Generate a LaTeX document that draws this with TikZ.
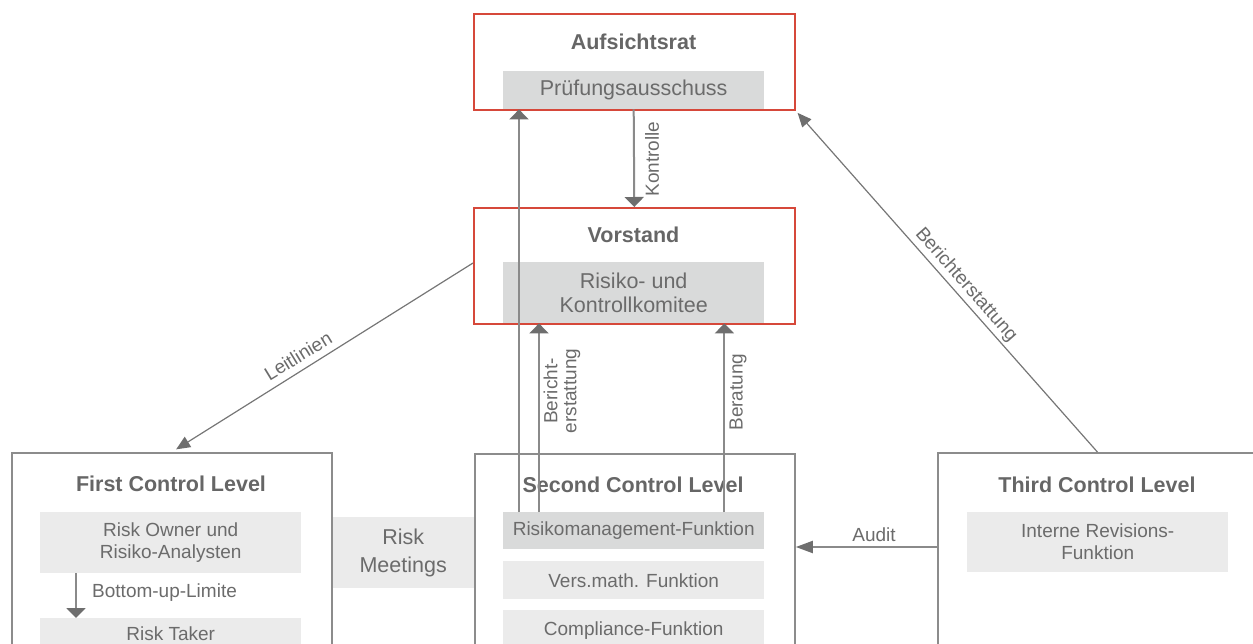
\documentclass[tikz,border=0pt]{standalone}
\usepackage{fontspec}
\setmainfont{Liberation Sans}
\usetikzlibrary{arrows.meta}
\definecolor{txt}{HTML}{6B6B6B}
\definecolor{ttl}{HTML}{666666}
\definecolor{frame}{HTML}{8C8C8C}
\definecolor{redb}{HTML}{D6483A}
\definecolor{gdark}{HTML}{D9DADA}
\definecolor{glight}{HTML}{EBEBEB}
\definecolor{lne}{HTML}{8A8A8A}
\definecolor{dlne}{HTML}{767676}
\definecolor{head}{HTML}{6E6E6E}
\begin{document}
\begin{tikzpicture}[x=1pt,y=-1pt,
  redbox/.style={draw=redb, line width=1.6pt, inner sep=0pt, anchor=north west},
  greybox/.style={draw=frame, line width=1.8pt, inner sep=0pt, anchor=north west},
  inbox/.style={fill=#1, inner sep=0pt, anchor=north west, minimum width=261pt, text=txt, align=center},
  big/.style={font=\fontsize{21.5}{24}\selectfont},
  small/.style={font=\fontsize{19}{22}\selectfont},
  ttlnode/.style={font=\bfseries\fontsize{21.5}{25}\selectfont, text=ttl, inner sep=0pt},
  lbl/.style={font=\fontsize{19}{19}\selectfont, text=txt, inner sep=0pt, align=center},
  varr/.style={draw=lne, line width=2pt, -{Triangle[length=10pt,width=19pt,color=head]}},
  harr/.style={draw=lne, line width=2pt, -{Triangle[length=17pt,width=12pt,color=head]}},
  darr/.style={draw=dlne, line width=1.2pt, -{Triangle[length=14pt,width=12pt,color=head]}},
]
\clip (0,0) rectangle (1253,643);

% inner boxes
\node[inbox=gdark, big, minimum height=38pt] (pruef) at (503,71) {Prüfungsausschuss};
\node[inbox=gdark, big, minimum height=61pt] (rkk) at (503,262) {Risiko- und\\Kontrollkomitee};
\node[inbox=glight, small, minimum height=61pt] (ro) at (40,512) {Risk Owner und\\Risiko-Analysten};
\node[inbox=glight, small, minimum height=30pt] (rt) at (40,618) {Risk Taker};
\node[inbox=gdark, small, minimum height=37pt] (rmf) at (503,512) {Risikomanagement-Funktion};
\node[inbox=glight, small, minimum height=38pt] (vmf) at (503,561) {Vers.math. Funktion};
\node[inbox=glight, small, minimum height=40pt] (cf) at (503,610) {Compliance-Funktion};
\node[inbox=glight, small, minimum height=60pt] (irf) at (967,512) {Interne Revisions-\\Funktion};
\node[fill=glight, inner sep=0pt, anchor=north west, minimum width=142pt, minimum height=71pt,
      text=txt, align=center, font=\fontsize{21.5}{28}\selectfont] (rm) at (332,517) {Risk\\Meetings};

% main frames
\node[redbox, minimum width=321pt, minimum height=96pt] (auf) at (473,13) {};
\node[redbox, minimum width=321pt, minimum height=116pt] (vor) at (473,207) {};
\node[greybox, minimum width=320pt, minimum height=250pt] (first) at (11,452) {};
\node[greybox, minimum width=320pt, minimum height=250pt] (second) at (474,453) {};
\node[greybox, minimum width=319pt, minimum height=250pt] (third) at (937,452) {};

% titles
\node[ttlnode] (aufT) at (633.5,42) {Aufsichtsrat};
\node[ttlnode] (vorT) at (633.5,235) {Vorstand};
\node[ttlnode] (firstT) at (171,484) {First Control Level};
\node[ttlnode] (secondT) at (633,485) {Second Control Level};
\node[ttlnode] (thirdT) at (1097,485) {Third Control Level};

% connectors
\draw[varr] (pruef.south) -- (vor.north);
\draw[varr] ([xshift=16pt]rmf.north west) -- ([xshift=16pt]pruef.south west);
\draw[varr] ([xshift=36pt]rmf.north west) -- ([xshift=36pt]rkk.south west);
\draw[varr] ([xshift=-40pt]rmf.north east) -- ([xshift=-40pt]rkk.south east);
\draw[varr] ([xshift=36pt]ro.south west) -- ([xshift=36pt]rt.north west);
\draw[harr] ([yshift=-95pt]third.north west) -- ([yshift=-94pt]second.north east);
\draw[darr, shorten >=5pt] ([yshift=-56pt]vor.north west) -- (first.north);
\draw[darr, shorten >=3pt] (third.north) -- (auf.south east);

% labels
\node[lbl, rotate=90] (kontrolleL) at (652,159) {Kontrolle};
\node[lbl, rotate=90] (berichtL) at (562,391) {Bericht-\\erstattung};
\node[lbl, rotate=90] (beratungL) at (738,392) {Beratung};
\node[lbl] (auditL) at (874,535) {Audit};
\node[lbl, anchor=west] (bottomL) at (92,593) {Bottom-up-Limite};
\node[lbl, rotate=31.4] (leitL) at (298,356) {Leitlinien};
\node[lbl, rotate=-48.6] (berichterL) at (966,285) {Berichterstattung};
\end{tikzpicture}
\end{document}
